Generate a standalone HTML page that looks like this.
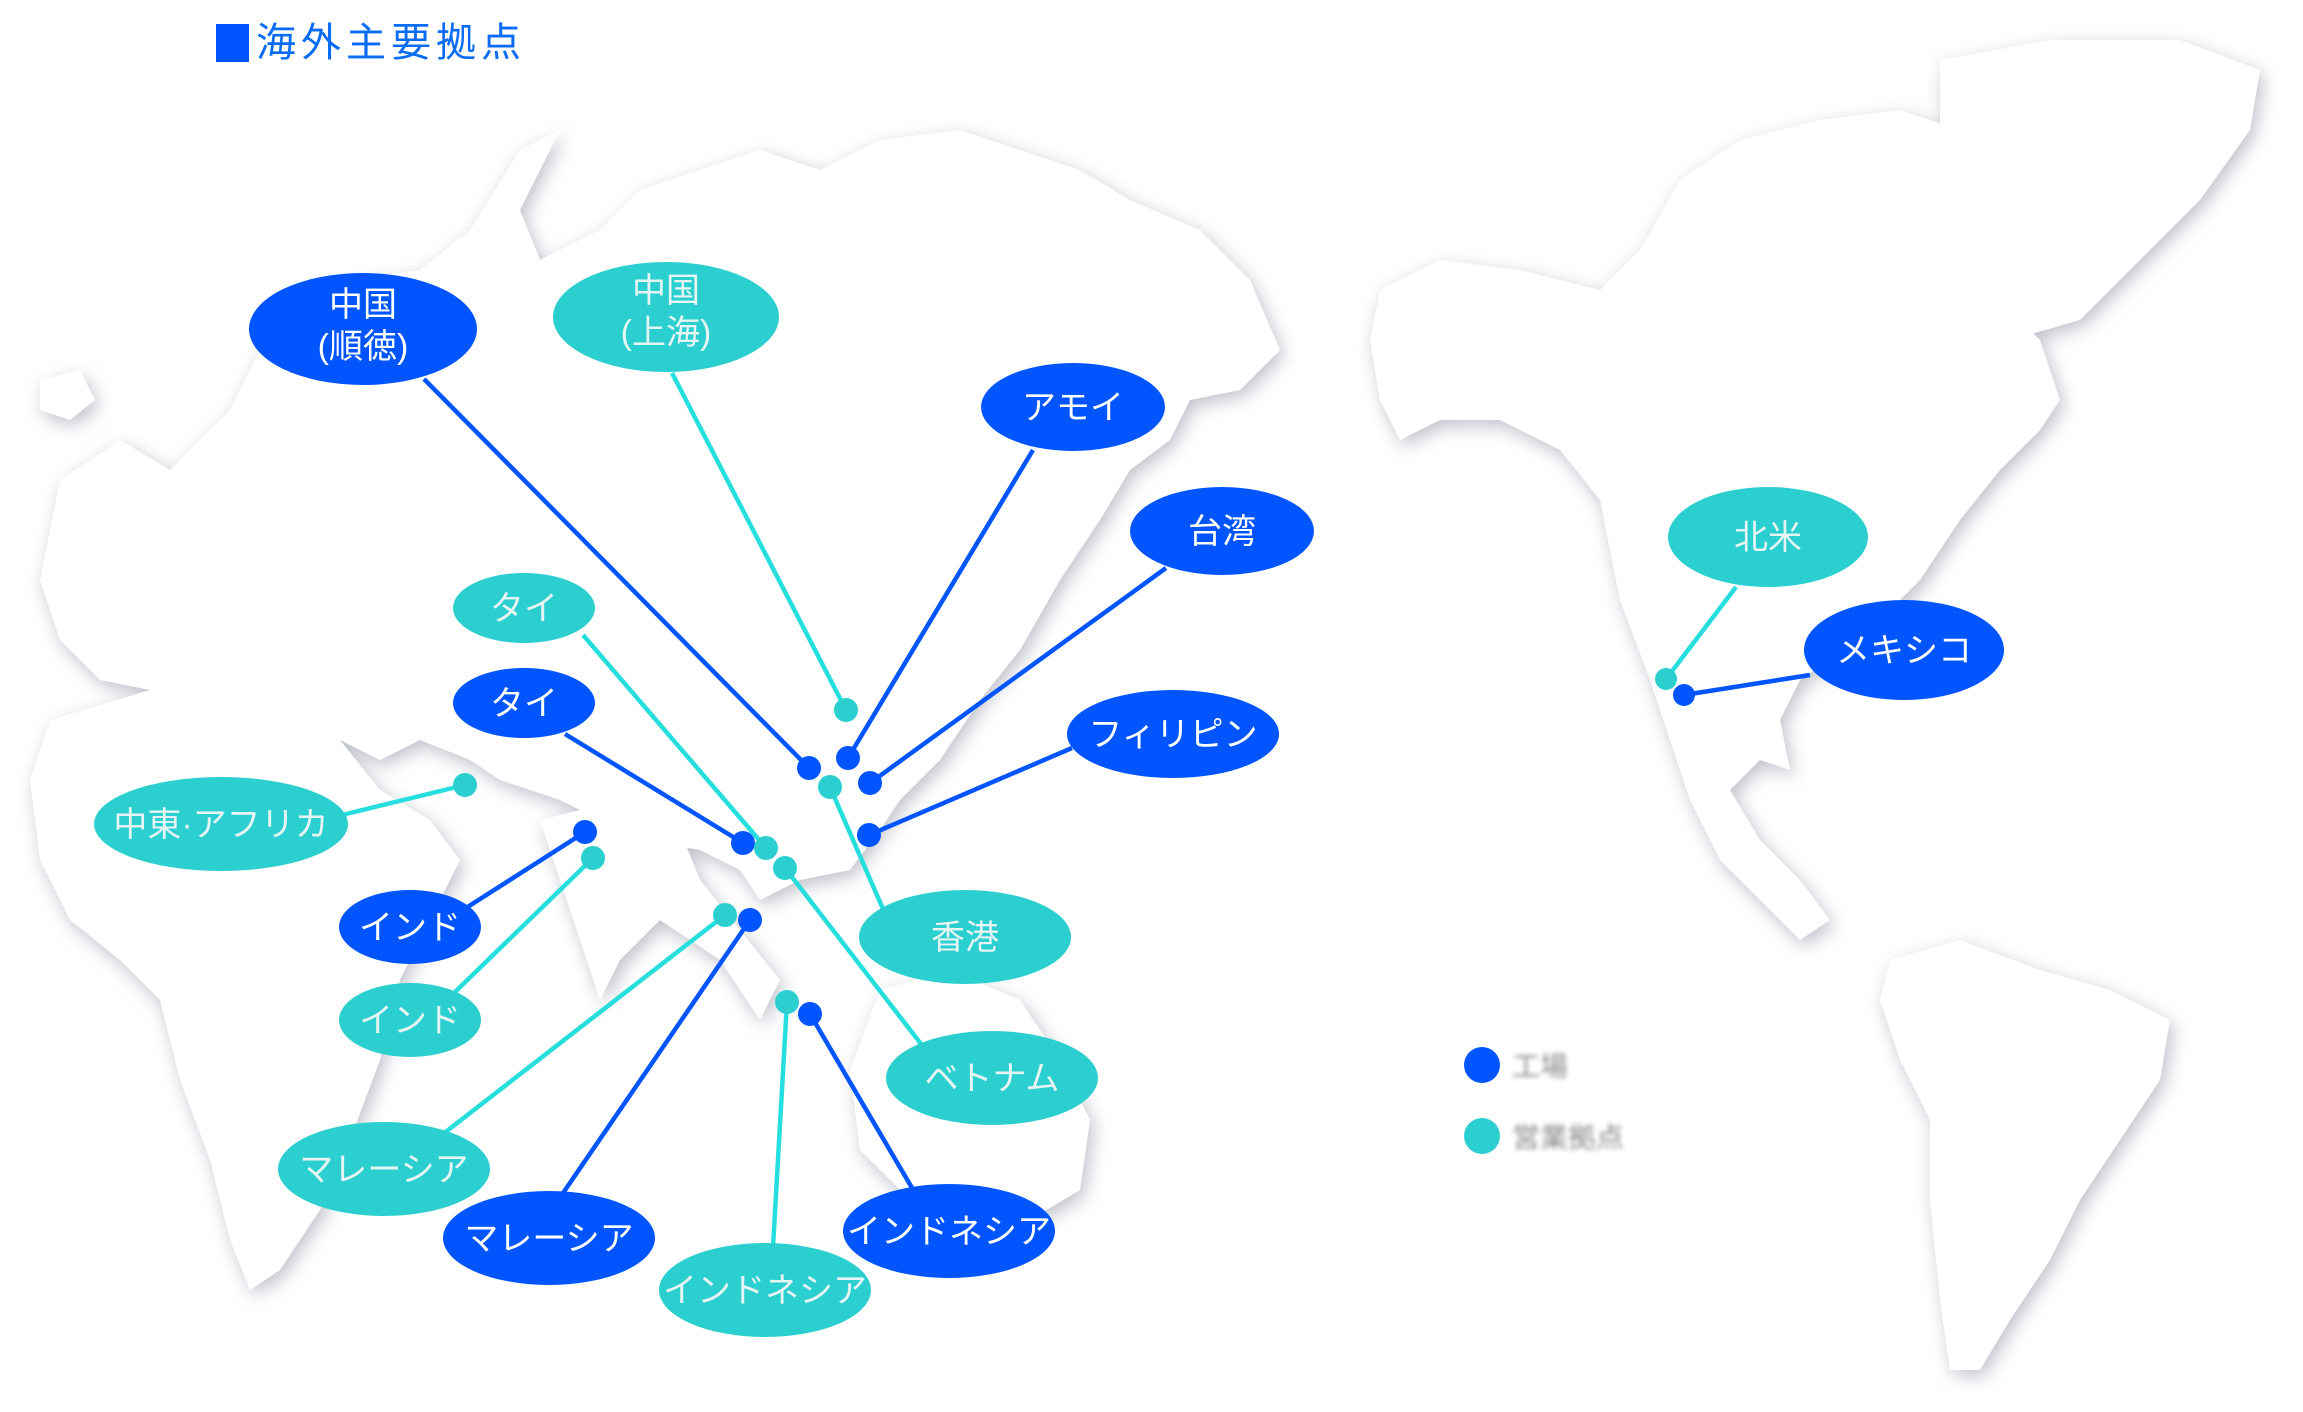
<!DOCTYPE html>
<html><head><meta charset="utf-8"><style>
html,body{margin:0;padding:0;background:#fff;}
svg{display:block;}
text{font-family:"Liberation Sans","Noto Sans CJK JP",sans-serif;}
</style></head><body>
<svg width="2303" height="1412" viewBox="0 0 2303 1412" xmlns="http://www.w3.org/2000/svg">
<defs>
<filter id="sh" x="-10%" y="-10%" width="120%" height="120%">
<feGaussianBlur in="SourceAlpha" stdDeviation="9"/>
<feOffset dx="4" dy="6" result="b"/>
<feFlood flood-color="#a9adb8" flood-opacity="0.75"/>
<feComposite in2="b" operator="in" result="s"/>
<feMerge><feMergeNode in="s"/><feMergeNode in="SourceGraphic"/></feMerge>
</filter>
<filter id="bl"><feGaussianBlur stdDeviation="2.5"/></filter>
</defs>
<rect width="2303" height="1412" fill="#fff"/>
<g filter="url(#sh)" fill="#ffffff">
<path d="M60,480 L120,440 L170,470 L230,410 L270,330 L300,300 L350,280 L420,270 L470,230 L520,150 L560,130 L520,210 L540,260 L600,230 L640,190 L700,170 L760,150 L820,170 L880,140 L960,130 L1020,150 L1080,170 L1130,200 L1200,230 L1250,280 L1280,350 L1240,390 L1190,400 L1170,440 L1130,470 L1100,520 L1060,580 L1020,650 L980,700 L940,760 L900,800 L880,830 L850,870 L800,880 L760,900 L740,870 L700,850 L640,840 L600,820 L560,800 L500,780 L470,760 L420,740 L380,760 L340,740 L300,740 L240,730 L200,700 L150,690 L100,680 L60,640 L40,580 Z"/>
<path d="M50,720 L150,690 L260,700 L340,740 L380,790 L430,820 L460,860 L430,920 L400,980 L380,1060 L350,1140 L320,1210 L280,1270 L250,1290 L230,1240 L210,1160 L180,1080 L160,1000 L120,960 L70,920 L40,860 L30,780 Z"/>
<path d="M540,820 L620,800 L680,830 L700,880 L740,930 L780,980 L760,1020 L720,960 L660,920 L620,960 L600,1000 L580,940 L560,880 Z"/>
<path d="M880,990 L950,970 L1020,1000 L1060,1060 L1090,1120 L1080,1190 L1030,1220 L960,1200 L900,1190 L860,1150 L850,1070 Z"/>
<path d="M40,380 L80,370 L95,400 L70,420 L40,410 Z"/>
<path d="M1380,290 L1440,260 L1520,270 L1600,290 L1640,250 L1680,180 L1740,140 L1820,120 L1900,110 L1960,130 L1970,180 L2000,230 L2000,300 L2040,340 L2060,400 L2040,430 L2000,470 L1960,520 L1920,580 L1880,620 L1830,660 L1800,680 L1780,720 L1790,770 L1760,760 L1730,790 L1760,840 L1800,880 L1830,920 L1800,940 L1760,900 L1720,860 L1690,800 L1670,740 L1650,680 L1620,600 L1600,500 L1560,450 L1500,420 L1440,420 L1400,440 L1380,400 L1370,340 Z"/>
<path d="M1940,60 L2050,40 L2180,40 L2260,70 L2250,130 L2200,200 L2140,260 L2080,320 L2010,340 L1980,280 L1960,200 L1940,130 Z"/>
<path d="M1890,960 L1960,940 L2040,970 L2110,990 L2170,1020 L2160,1080 L2120,1140 L2080,1200 L2050,1260 L2010,1320 L1980,1370 L1950,1370 L1940,1300 L1930,1200 L1930,1120 L1900,1060 L1880,1000 Z"/>
</g>

<rect x="216" y="24" width="33" height="38" fill="#0055ff"/>
<text x="256" y="56" font-size="40" fill="#0a6cf5" letter-spacing="5">海外主要拠点</text>

<g stroke-width="4.5" fill="none">
<line x1="424" y1="379" x2="809" y2="768" stroke="#0055ff"/>
<line x1="672" y1="373" x2="846" y2="710" stroke="#27dede"/>
<line x1="1033" y1="450" x2="848" y2="758" stroke="#0055ff"/>
<line x1="1166" y1="568" x2="870" y2="783" stroke="#0055ff"/>
<line x1="1072" y1="748" x2="869" y2="835" stroke="#0055ff"/>
<line x1="583" y1="635" x2="766" y2="848" stroke="#27dede"/>
<line x1="565" y1="734" x2="743" y2="843" stroke="#0055ff"/>
<line x1="342" y1="815" x2="465" y2="785" stroke="#27dede"/>
<line x1="466" y1="908" x2="585" y2="832" stroke="#0055ff"/>
<line x1="455" y1="992" x2="593" y2="858" stroke="#27dede"/>
<line x1="883" y1="909" x2="830" y2="787" stroke="#27dede"/>
<line x1="921" y1="1044" x2="785" y2="868" stroke="#27dede"/>
<line x1="443" y1="1134" x2="725" y2="915" stroke="#27dede"/>
<line x1="561" y1="1196" x2="750" y2="920" stroke="#0055ff"/>
<line x1="773" y1="1247" x2="787" y2="1002" stroke="#27dede"/>
<line x1="915" y1="1193" x2="810" y2="1014" stroke="#0055ff"/>
<line x1="1736" y1="587" x2="1666" y2="679" stroke="#27dede"/>
<line x1="1810" y1="675" x2="1684" y2="695" stroke="#0055ff"/>
</g>

<g fill="#0055ff">
<circle cx="809" cy="768" r="12"/><circle cx="848" cy="758" r="12"/><circle cx="870" cy="783" r="12"/>
<circle cx="869" cy="835" r="12"/><circle cx="743" cy="843" r="12"/><circle cx="585" cy="832" r="12"/>
<circle cx="750" cy="920" r="12"/><circle cx="810" cy="1014" r="12"/><circle cx="1684" cy="695" r="11"/>
</g>
<g fill="#2ccfcf">
<circle cx="846" cy="710" r="12"/><circle cx="830" cy="787" r="12"/><circle cx="766" cy="848" r="12"/>
<circle cx="785" cy="868" r="12"/><circle cx="465" cy="785" r="12"/><circle cx="593" cy="858" r="12"/>
<circle cx="725" cy="915" r="12"/><circle cx="787" cy="1002" r="12"/><circle cx="1666" cy="679" r="11"/>
</g>

<g fill="#0055ff">
<ellipse cx="363" cy="329" rx="114" ry="56"/>
<ellipse cx="1073" cy="407" rx="92" ry="44"/>
<ellipse cx="1222" cy="531" rx="92" ry="44"/>
<ellipse cx="1173" cy="734" rx="106" ry="44"/>
<ellipse cx="524" cy="703" rx="71" ry="35"/>
<ellipse cx="410" cy="927" rx="71" ry="37"/>
<ellipse cx="549" cy="1238" rx="106" ry="47"/>
<ellipse cx="949" cy="1231" rx="106" ry="47"/>
<ellipse cx="1904" cy="650" rx="100" ry="50"/>
</g>
<g fill="#2ccfcf">
<ellipse cx="666" cy="317" rx="113" ry="55"/>
<ellipse cx="524" cy="608" rx="71" ry="35"/>
<ellipse cx="221" cy="824" rx="127" ry="47"/>
<ellipse cx="410" cy="1020" rx="71" ry="37"/>
<ellipse cx="965" cy="937" rx="106" ry="47"/>
<ellipse cx="992" cy="1078" rx="106" ry="47"/>
<ellipse cx="384" cy="1169" rx="106" ry="47"/>
<ellipse cx="765" cy="1290" rx="106" ry="47"/>
<ellipse cx="1768" cy="537" rx="100" ry="50"/>
</g>

<g font-size="34" text-anchor="middle" fill="#ffffff">
<text x="363" y="316">中国</text>
<text x="363" y="358">(順徳)</text>
<text x="1073" y="419">アモイ</text>
<text x="1222" y="543">台湾</text>
<text x="1173" y="746">フィリピン</text>
<text x="524" y="715">タイ</text>
<text x="410" y="939">インド</text>
<text x="549" y="1250">マレーシア</text>
<text x="949" y="1243">インドネシア</text>
<text x="1904" y="662">メキシコ</text>
</g>
<g font-size="34" text-anchor="middle" fill="#e6f4f4">
<text x="666" y="302">中国</text>
<text x="666" y="344">(上海)</text>
<text x="524" y="620">タイ</text>
<text x="221" y="836">中東·アフリカ</text>
<text x="410" y="1032">インド</text>
<text x="965" y="949">香港</text>
<text x="992" y="1090">ベトナム</text>
<text x="384" y="1181">マレーシア</text>
<text x="765" y="1302">インドネシア</text>
<text x="1768" y="549">北米</text>
</g>

<circle cx="1482" cy="1065" r="18" fill="#0055ff"/>
<circle cx="1482" cy="1136" r="18" fill="#2ccfcf"/>
<g filter="url(#bl)" fill="#888" font-size="28">
<text x="1512" y="1076">工場</text>
<text x="1512" y="1147">営業拠点</text>
</g>
</svg>
</body></html>
